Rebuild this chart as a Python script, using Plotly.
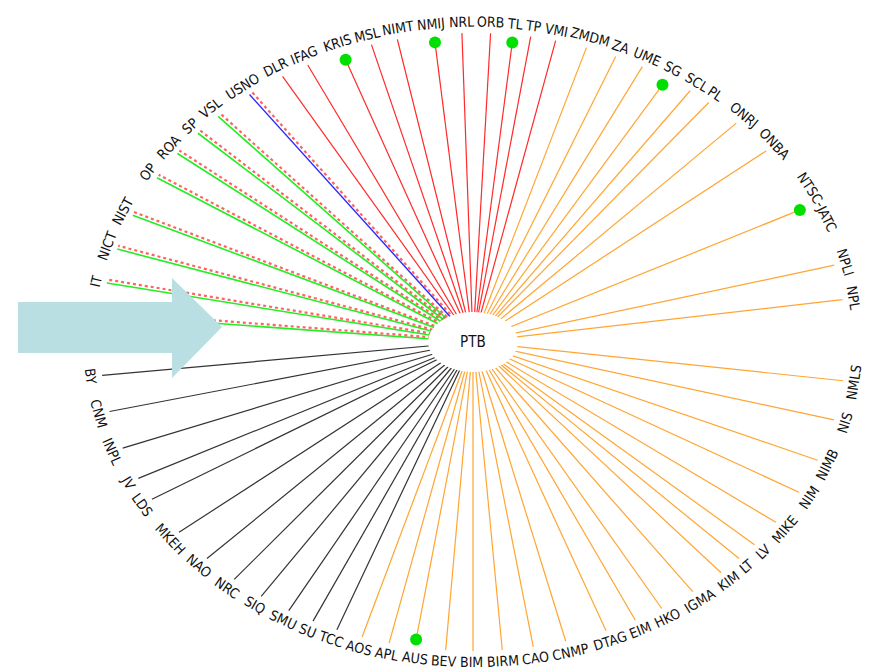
import math
import plotly.graph_objects as go

# ---------------- data ----------------
CENTER_NODE = "PTB"

# upper ring of labels (text reads clockwise, left -> right over the top)
upper_names = ["INRIM", "IT", "NICT", "NIST", "OP", "ROA", "SP", "VSL", "USNO",
               "DLR", "IFAG", "KRIS", "MSL", "NIMT", "NMIJ", "NRL", "ORB", "TL", "TP", "VMI",
               "ZMDM", "ZA", "UME", "SG", "SCL", "PL", "ONRJ", "ONBA", "NTSC-JATC", "NPLI", "NPL"]
upper_groups = ["green"] * 8 + ["blue"] + ["red"] * 11 + ["orange"] * 11
upper_angles = [175.0, 169.0, 162.5, 155.8, 147.9, 142.4, 137.5, 133.1, 126.8,
                120.7, 116.3, 110.5, 105.8, 101.7, 96.0, 91.7, 87.3, 83.8, 81.1, 77.2,
                72.3, 67.5, 63.0, 58.6, 54.4, 50.8, 45.1, 38.2, 26.0, 14.4, 7.9]

# lower ring of labels (text reads counter-clockwise, left -> right along the bottom)
lower_names = ["BY", "CNM", "INPL", "JV", "LDS", "MKEH", "NAO", "NRC", "SIQ", "SMU", "SU", "TCC",
               "AOS", "APL", "AUS", "BEV", "BIM", "BIRM", "CAO", "CNMP", "DTAG", "EIM", "HKO",
               "IGMA", "KIM", "LT", "LV", "MIKE", "NIM", "NIMB", "NIS", "NMLS"]
lower_groups = ["black"] * 12 + ["orange"] * 20
lower_angles = [186.2, 193.0, 200.1, 206.2, 210.6, 218.0, 224.5, 230.2, 235.4, 240.4, 244.6, 248.6,
                252.7, 257.0, 261.0, 265.8, 270.0, 274.5, 279.3, 284.4, 290.9, 295.8, 300.4,
                306.1, 311.7, 315.5, 319.0, 324.3, 330.9, 337.5, 345.4, 352.8]

dot_nodes = ["KRIS", "NMIJ", "TL", "SG", "NTSC-JATC", "AUS"]
covered_labels = ["INRIM"]          # label hidden under the arrow in the picture

# ---------------- geometry / style ----------------
W, H = 870, 671
CX, CY = 473, 342       # centre of the ring (px)
RX, RY = 373, 309       # ring radii (px)
LAB_OFF = 11            # label distance beyond line end (px)

LINE_COL = {"black": "#333333", "orange": "#ffa532", "red": "#ff2a2a",
            "green": "#22ee22", "blue": "#2a2aff"}
LINE_W = {"black": 1.2, "orange": 1.2, "red": 1.2, "green": 1.6, "blue": 1.4}
FONT = "DejaVu Sans Condensed, DejaVu Sans, sans-serif"
FSIZE = 14


def px2d(px, py):
    return (px - CX) / RX, (CY - py) / RY


def ring(phi, r=1.0):
    a = math.radians(phi)
    return r * math.cos(a), r * math.sin(a)


nodes = []
for n, g, a in zip(upper_names, upper_groups, upper_angles):
    nodes.append((n, g, a, "upper"))
for n, g, a in zip(lower_names, lower_groups, lower_angles):
    nodes.append((n, g, a, "lower"))

fig = go.Figure()

# spokes per colour group
for grp in ["black", "orange", "red", "green", "blue"]:
    xs, ys = [], []
    for n, g, a, side in nodes:
        if g != grp:
            continue
        r = 0.975 if n in dot_nodes else 1.0
        x, y = ring(a, r)
        xs += [0, x, None]
        ys += [0, y, None]
    fig.add_trace(go.Scatter(x=xs, y=ys, mode="lines", hoverinfo="skip",
                             line=dict(color=LINE_COL[grp], width=LINE_W[grp])))

# red dotted companions of the green / blue spokes
xs, ys = [], []
for n, g, a, side in nodes:
    if g not in ("green", "blue"):
        continue
    t = math.radians(a)
    ux, uy = RX * math.cos(t), RY * math.sin(t)
    L = math.hypot(ux, uy)
    ux, uy = ux / L, uy / L
    perp = (uy, -ux)            # clockwise side, in px
    x0 = perp[0] * 1.5 / RX
    y0 = perp[1] * 1.5 / RY
    ex, ey = ring(a)
    x1 = ex + perp[0] * 3.5 / RX
    y1 = ey + perp[1] * 3.5 / RY
    xs += [x0, x1, None]
    ys += [y0, y1, None]
fig.add_trace(go.Scatter(x=xs, y=ys, mode="lines", hoverinfo="skip",
                         line=dict(color="rgba(255,70,70,0.85)", width=2.2, dash="dot")))

# green dots
dx_, dy_ = [], []
for n, g, a, side in nodes:
    if n in dot_nodes:
        x, y = ring(a, 0.975)
        dx_.append(x)
        dy_.append(y)
fig.add_trace(go.Scatter(x=dx_, y=dy_, mode="markers", hoverinfo="skip",
                         marker=dict(color="#00e000", size=12, line=dict(width=0))))

# ---------------- labels ----------------
RXL, RYL = RX + LAB_OFF, RY + LAB_OFF
CHAR_EM = {"A": .616, "B": .617, "C": .628, "D": .693, "E": .569, "F": .518, "G": .698,
           "H": .677, "I": .266, "J": .266, "K": .592, "L": .501, "M": .777, "N": .673,
           "O": .708, "P": .543, "Q": .708, "R": .626, "S": .572, "T": .55, "U": .659,
           "V": .616, "W": .89, "X": .616, "Y": .55, "Z": .617, "-": .325}


def text_w(s):
    return sum(CHAR_EM.get(c, 0.6) for c in s) * FSIZE


def per_deg(phi):
    t = math.radians(phi)
    return math.hypot(RXL * math.sin(t), RYL * math.cos(t)) * math.pi / 180


def relax(angles, widths, gap=3.5, iters=400):
    """Spread labels along the arc so neighbours do not overlap."""
    pos = list(angles)
    for _ in range(iters):
        for i in range(len(pos)):
            pos[i] += 0.02 * (angles[i] - pos[i])
        for i in range(len(pos) - 1):
            a, b = pos[i], pos[i + 1]
            need = ((widths[i] + widths[i + 1]) / 2 + gap) / per_deg((a + b) / 2)
            d = abs(a - b)
            if d < need:
                sh = (need - d) / 2
                sg = 1 if a > b else -1
                pos[i] += sg * sh
                pos[i + 1] -= sg * sh
    return pos


def text_angle(phi, side):
    t = math.radians(phi)
    if side == "upper":
        return math.degrees(math.atan2(RYL * math.cos(t), RXL * math.sin(t)))
    return math.degrees(math.atan2(-RYL * math.cos(t), -RXL * math.sin(t)))


def add_label(text, phi, side):
    t = math.radians(phi)
    x = math.cos(t) * RXL / RX
    y = math.sin(t) * RYL / RY
    fig.add_annotation(x=x, y=y, xref="x", yref="y", text=text, showarrow=False,
                       textangle=text_angle(phi, side), xanchor="center", yanchor="middle",
                       font=dict(family=FONT, size=FSIZE, color="#111111"))


for side, names, angs in [("upper", upper_names, upper_angles), ("lower", lower_names, lower_angles)]:
    vis = [(n, a) for n, a in zip(names, angs) if n not in covered_labels]
    lab_angles = relax([a for _, a in vis], [text_w(n) for n, _ in vis])
    for (n, _), a in zip(vis, lab_angles):
        if "-" in n:
            # long label follows the curve: place its pieces along the arc
            parts = [n.split("-")[0] + "-", n.split("-")[1]]
            widths = [text_w(p) for p in parts]
            s = -sum(widths) / 2
            for p, w in zip(parts, widths):
                dphi = (s + w / 2) / per_deg(a)
                add_label(p, a - dphi if side == "upper" else a + dphi, side)
                s += w
        else:
            add_label(n, a, side)

# ---------------- centre node ----------------
fig.add_shape(type="circle", xref="x", yref="y",
              x0=-45 / RX, x1=45 / RX, y0=-30 / RY, y1=30 / RY,
              fillcolor="white", line=dict(width=0), layer="above")
fig.add_annotation(x=0, y=0, xref="x", yref="y", text=CENTER_NODE, showarrow=False,
                   font=dict(family=FONT, size=15, color="#111111"))

# ---------------- block arrow ----------------
arrow_px = [(18, 302), (172, 302), (172, 278), (222, 327), (172, 378), (172, 353), (18, 353)]
pts = [px2d(px, py) for px, py in arrow_px]
path = "M " + " L ".join(f"{x:.5f},{y:.5f}" for x, y in pts) + " Z"
fig.add_shape(type="path", path=path, xref="x", yref="y",
              fillcolor="#b9dfe3", line=dict(width=0), layer="above")

fig.update_layout(
    width=W, height=H, margin=dict(l=0, r=0, t=0, b=0),
    paper_bgcolor="white", plot_bgcolor="white", showlegend=False,
    xaxis=dict(range=[-CX / RX, (W - CX) / RX], visible=False, fixedrange=True),
    yaxis=dict(range=[-(H - CY) / RY, CY / RY], visible=False, fixedrange=True),
)

fig.write_html("out.html", config={"displayModeBar": False},
               post_script="document.body.style.margin='0';document.body.style.overflow='hidden';")
